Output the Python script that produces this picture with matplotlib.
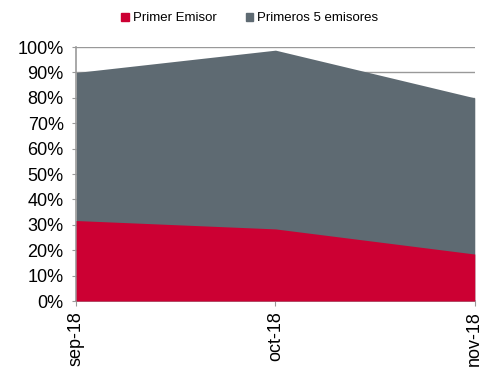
import matplotlib.pyplot as plt
from matplotlib.patches import Patch
from matplotlib.ticker import PercentFormatter

plt.rcParams['font.family'] = ['Liberation Sans', 'DejaVu Sans']

# monthly issuer concentration
meses = ['sep-18', 'oct-18', 'nov-18']
primer_emisor = [31.7, 28.4, 18.5]
primeros_5 = [90.0, 98.8, 80.0]

rojo = '#CC0033'
gris = '#5E6A72'

fig = plt.figure(figsize=(4.82, 3.68), dpi=100)
ax = fig.add_axes([0.158, 0.182, 0.827, 0.69])

x = list(range(len(meses)))
ax.fill_between(x, 0, primeros_5, color=gris, linewidth=0, zorder=2)
ax.fill_between(x, 0, primer_emisor, color=rojo, linewidth=0, zorder=3)

ax.set_xlim(0, len(meses) - 1)
ax.set_ylim(0, 100)
ax.set_yticks(range(0, 101, 10))
ax.yaxis.set_major_formatter(PercentFormatter(decimals=0))
ax.set_xticks(x)
ax.set_xticklabels(meses, rotation=90, fontsize=13)
ax.tick_params(axis='y', labelsize=13, length=3, color='#999999', pad=6)
ax.tick_params(axis='x', length=3.5, color='#999999', pad=4)

ax.grid(axis='y', color='#999999', linewidth=1, zorder=0)
ax.set_axisbelow(True)
for side in ['top', 'right']:
    ax.spines[side].set_visible(False)
for side in ['left', 'bottom']:
    ax.spines[side].set_color('#999999')
    ax.spines[side].set_linewidth(1.2)

handles = [Patch(color=rojo, label='Primer Emisor'),
           Patch(color=gris, label='Primeros 5 emisores')]
fig.legend(handles=handles, loc='center', bbox_to_anchor=(0.518, 0.95), ncol=2,
           frameon=False, fontsize=9.5, handlelength=0.6, handleheight=0.6,
           handletextpad=0.3, columnspacing=2.2)

fig.savefig('out.png', dpi=100)
